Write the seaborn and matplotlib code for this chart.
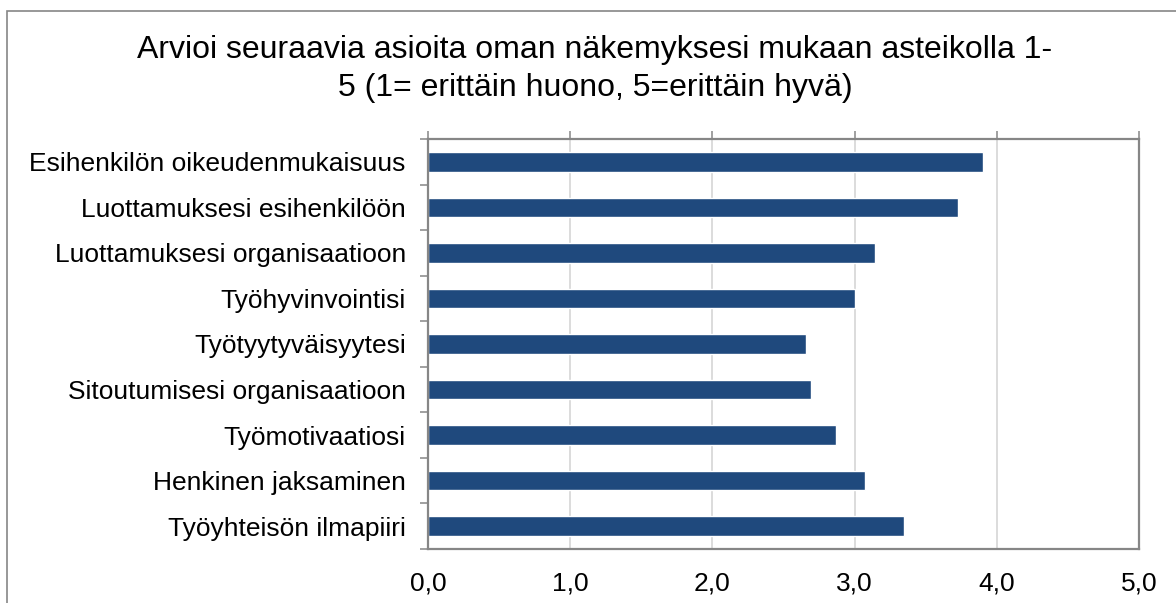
import numpy as np
import pandas as pd
import matplotlib
matplotlib.use("Agg")
import matplotlib.pyplot as plt
from matplotlib.patches import Rectangle
import seaborn as sns

kysymykset = ["Esihenkilön oikeudenmukaisuus", "Luottamuksesi esihenkilöön",
              "Luottamuksesi organisaatioon", "Työhyvinvointisi", "Työtyytyväisyytesi",
              "Sitoutumisesi organisaatioon", "Työmotivaatiosi", "Henkinen jaksaminen",
              "Työyhteisön ilmapiiri"]
keskiarvot = [3.90, 3.73, 3.14, 3.00, 2.66, 2.69, 2.87, 3.07, 3.35]
x_ticks = [0, 1, 2, 3, 4, 5]
x_labels = ["0,0", "1,0", "2,0", "3,0", "4,0", "5,0"]
otsikko = "Arvioi seuraavia asioita oman näkemyksesi mukaan asteikolla 1-\n5 (1= erittäin huono, 5=erittäin hyvä)"

df = pd.DataFrame({"kysymys": kysymykset, "arvo": keskiarvot})

sns.set_style("white")
plt.rcParams["font.family"] = ["Liberation Sans", "DejaVu Sans"]
plt.rcParams["text.color"] = "black"
plt.rcParams["xtick.labelcolor"] = "black"
plt.rcParams["ytick.labelcolor"] = "black"

W, H = 1176, 603
fig = plt.figure(figsize=(W / 100, H / 100), dpi=100)
ax = fig.add_axes([428 / W, (H - 549) / H, (1139 - 428) / W, (549 - 139) / H])

sns.barplot(data=df, y="kysymys", x="arvo", orient="h", color="#1F497D",
            saturation=1, width=0.43, ax=ax)

ax.set_xlim(0, 5)
ax.set_ylim(8.5, -0.5)
ax.set_xticks(x_ticks)
ax.set_xticklabels(x_labels)
ax.set_xlabel("")
ax.set_ylabel("")
for x in x_ticks[1:-1]:
    ax.axvline(x, color="#D9D9D9", lw=1.3, zorder=0)

ax.tick_params(axis="x", top=True, bottom=False, labeltop=False, labelbottom=True,
               length=6, width=1.1, color="#868686", labelsize=19, pad=10)
ax.tick_params(axis="y", which="major", length=0, labelsize=19, pad=16)
ax.set_yticks(np.arange(-0.5, 9, 1), minor=True)
ax.tick_params(axis="y", which="minor", left=True, length=6, width=1.1, color="#868686")

for s in ax.spines.values():
    s.set_visible(True)
    s.set_color("#868686")
    s.set_linewidth(1.6)

fig.text(595 / W, 1 - 69 / H, otsikko, ha="center", va="center", fontsize=23,
         linespacing=1.38)

fig.patches.append(Rectangle((7 / W, -0.1), 1.2, 0.1 + (H - 11) / H, transform=fig.transFigure,
                             fill=False, edgecolor="#868686", lw=1.2))

fig.savefig("out.png", dpi=100)
